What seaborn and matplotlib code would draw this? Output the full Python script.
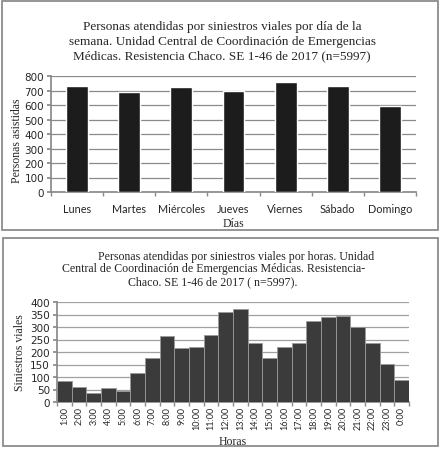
import matplotlib
matplotlib.use("Agg")
import matplotlib.pyplot as plt
import seaborn as sns
import pandas as pd
from matplotlib.patches import Rectangle

# Datos
dias = ["Lunes", "Martes", "Miércoles", "Jueves", "Viernes", "Sábado", "Domingo"]
personas = [730, 688, 726, 695, 760, 730, 590]

horas = ["1:00", "2:00", "3:00", "4:00", "5:00", "6:00", "7:00", "8:00", "9:00",
         "10:00", "11:00", "12:00", "13:00", "14:00", "15:00", "16:00", "17:00",
         "18:00", "19:00", "20:00", "21:00", "22:00", "23:00", "0:00"]
siniestros = [83, 60, 37, 55, 45, 117, 175, 265, 215, 220, 270, 360, 372, 237,
              178, 222, 238, 325, 340, 345, 300, 235, 152, 88]

df_dias = pd.DataFrame({"Dia": dias, "Personas": personas})
df_horas = pd.DataFrame({"Hora": horas, "Siniestros": siniestros})

sns.set_theme(style="white")
serif = ["Liberation Serif", "DejaVu Serif"]
tick_font = ["DejaVu Sans"]
cat_font = ["Lato", "DejaVu Sans"]

W, H = 440, 452
fig = plt.figure(figsize=(W / 100, H / 100), dpi=100)


def fx(px):
    return px / W


def fy(py):
    return 1 - py / H


# Marcos de cada panel
for (x0, y0, x1, y1) in [(2, 2, 438, 231), (3, 239, 438, 447)]:
    fig.patches.append(Rectangle((fx(x0), fy(y1)), fx(x1 - x0), (y1 - y0) / H,
                                 transform=fig.transFigure, fill=False,
                                 edgecolor="#8c8c8c", lw=1.3))

# ---- Panel 1: por día ----
ax1 = fig.add_axes([fx(51), fy(193), fx(416 - 51), (193 - 77) / H])
sns.barplot(data=df_dias, x="Dia", y="Personas", order=dias, color="#1c1c1c",
            width=0.42, saturation=1, ax=ax1, zorder=3)
ax1.set_ylim(0, 800)
ax1.set_yticks(range(0, 801, 100))
ax1.set_xlim(-0.5, len(dias) - 0.5)
ax1.yaxis.grid(True, color="#8a8a8a", lw=0.9, zorder=0)
ax1.set_axisbelow(True)
for s in ["top", "right"]:
    ax1.spines[s].set_visible(False)
ax1.spines["left"].set_color("#8a8a8a")
ax1.spines["bottom"].set_color("#8a8a8a")
ax1.set_xticks([i + 0.5 for i in range(-1, len(dias))], minor=True)
ax1.tick_params(axis="x", which="minor", length=3, color="#8a8a8a", bottom=True)
ax1.tick_params(axis="x", which="major", length=0, pad=8)
ax1.tick_params(axis="y", length=3, color="#8a8a8a", left=True, pad=2)
for t in ax1.get_yticklabels():
    t.set_fontfamily(tick_font)
    t.set_fontsize(7.5)
for t in ax1.get_xticklabels():
    t.set_fontfamily(cat_font)
    t.set_fontsize(7.8)
ax1.set_ylabel("Personas asistidas", family=serif, fontsize=8.5)
ax1.yaxis.set_label_coords(-0.076, 0.45)
ax1.set_xlabel("Días", family=serif, fontsize=8.5, labelpad=2)

titulo1 = ["Personas atendidas por siniestros viales por día de la",
           "semana. Unidad Central de Coordinación de Emergencias",
           "Médicas. Resistencia Chaco. SE 1-46 de 2017 (n=5997)"]
for i, linea in enumerate(titulo1):
    fig.text(fx(222), fy(27 + i * 14.5), linea, ha="center", va="center",
             family=serif, fontsize=9.5)

# ---- Panel 2: por horas ----
ax2 = fig.add_axes([fx(57), fy(403), fx(409 - 57), (403 - 303) / H])
sns.barplot(data=df_horas, x="Hora", y="Siniestros", order=horas, color="#3b3b3b",
            width=1.0, saturation=1, edgecolor="#9a9a9a", linewidth=0.6,
            ax=ax2, zorder=3)
ax2.set_ylim(0, 400)
ax2.set_yticks(range(0, 401, 50))
ax2.set_xlim(-0.5, len(horas) - 0.5)
ax2.yaxis.grid(True, color="#a0a0a0", lw=0.9, zorder=0)
ax2.set_axisbelow(True)
for s in ["top", "right"]:
    ax2.spines[s].set_visible(False)
ax2.spines["left"].set_color("#8a8a8a")
ax2.spines["bottom"].set_color("#8a8a8a")
ax2.set_xticks([i + 0.5 for i in range(-1, len(horas))], minor=True)
ax2.tick_params(axis="x", which="minor", length=3, color="#8a8a8a", bottom=True)
ax2.tick_params(axis="x", which="major", length=0, pad=3)
ax2.tick_params(axis="y", length=3, color="#8a8a8a", left=True, pad=2)
for t in ax2.get_yticklabels():
    t.set_fontfamily(tick_font)
    t.set_fontsize(7.5)
for t in ax2.get_xticklabels():
    t.set_fontfamily(cat_font)
    t.set_fontsize(6.5)
    t.set_rotation(90)
ax2.set_ylabel("Siniestros viales", family=serif, fontsize=8.5, labelpad=3)
ax2.set_xlabel("Horas", family=serif, fontsize=8.5, labelpad=4)

titulo2 = [("Personas atendidas por siniestros viales por horas. Unidad", 236, 257),
           ("Central de Coordinación de Emergencias Médicas. Resistencia-", 214, 269),
           ("Chaco. SE 1-46 de 2017 ( n=5997).", 213, 282)]
for linea, cx, cy in titulo2:
    fig.text(fx(cx), fy(cy), linea, ha="center", va="center",
             family=serif, fontsize=8.6)

fig.savefig("out.png", dpi=100, facecolor="white")
